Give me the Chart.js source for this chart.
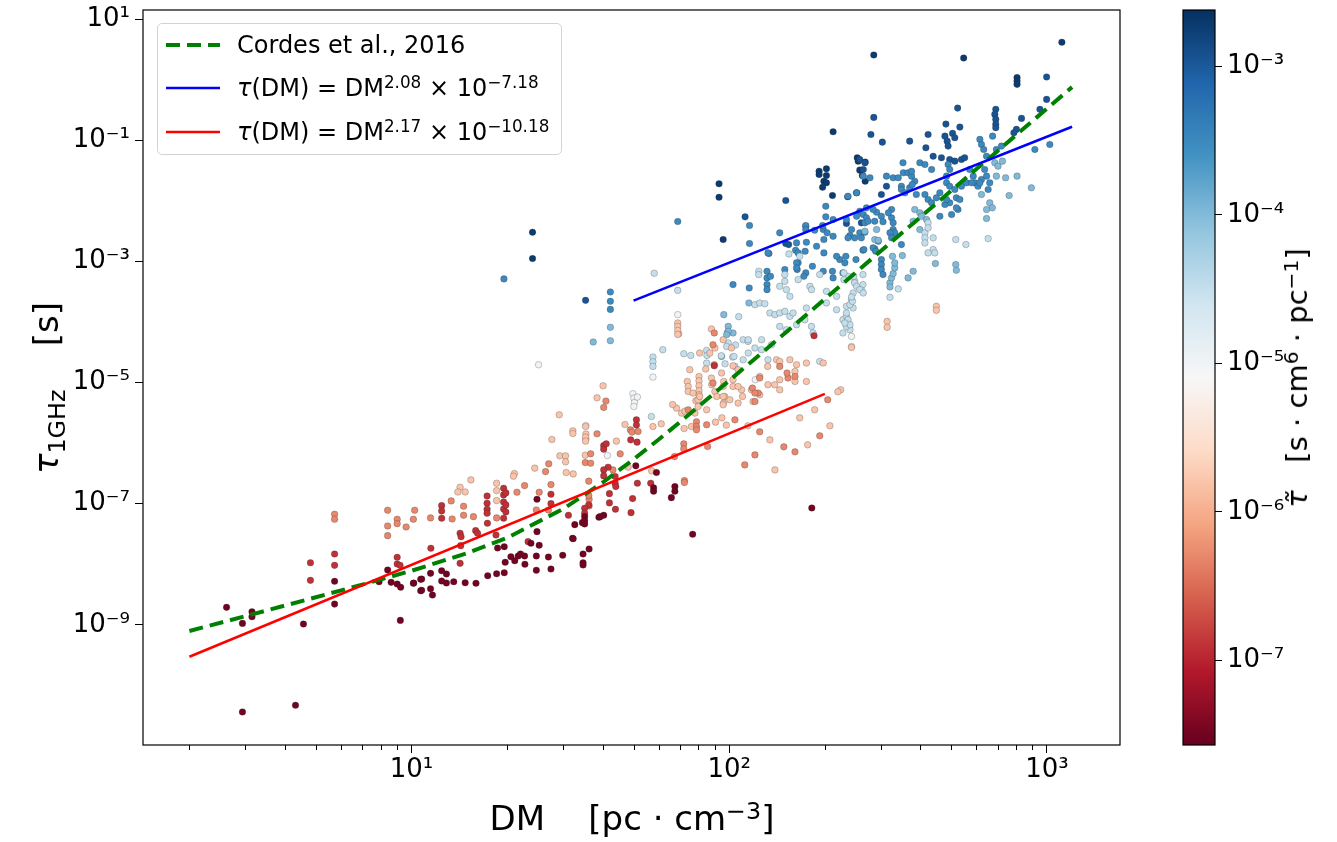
<!DOCTYPE html>
<html lang="en">
<head>
<meta charset="UTF-8">
<title>Scattering time vs DM</title>
<script src="https://cdn.jsdelivr.net/npm/chart.js"></script>
<style>
  body { margin: 0; background: #fff; font-family: 'DejaVu Sans', sans-serif; }
  #wrap { position: relative; width: 1337px; height: 842px; overflow: hidden; }
  canvas { position: absolute; top: 0; }
  #main { left: 0; }
  #cbar { left: 1170px; }
  .label { position: absolute; white-space: nowrap; color: #000; }
  .rot { transform: translate(-50%, -50%) rotate(-90deg); }
  sup { font-size: 0.7em; vertical-align: 0.45em; line-height: 0; }
  sub { font-size: 0.7em; vertical-align: -0.28em; line-height: 0; }
  #legend {
    position: absolute; left: 157px; top: 23px; width: 403px; height: 130px;
    border: 1px solid #d3d3d3; border-radius: 5px; background: rgba(255,255,255,0.85);
    font-size: 24px;
  }
  #legend .row { position: absolute; left: 0; height: 30px; line-height: 30px; white-space: nowrap; }
  #legend svg { position: absolute; left: 8px; top: 10px; }
  #legend span { position: absolute; left: 79px; top: 0; }
</style>
</head>
<body>
<div id="wrap">
  <canvas id="main" width="1337" height="842"></canvas>
  <canvas id="cbar" width="167" height="842"></canvas>

  <div id="legend">
    <div class="row" style="top:6px"><svg width="54" height="10"><line x1="0" y1="5" x2="54" y2="5" stroke="#008000" stroke-width="4" stroke-dasharray="14,7"/></svg><span>Cordes et al., 2016</span></div>
    <div class="row" style="top:49px"><svg width="54" height="10"><line x1="0" y1="5" x2="54" y2="5" stroke="#0000ff" stroke-width="2.5"/></svg><span><i>τ</i>(DM) = DM<sup>2.08</sup> × 10<sup>−7.18</sup></span></div>
    <div class="row" style="top:93px"><svg width="54" height="10"><line x1="0" y1="5" x2="54" y2="5" stroke="#ff0000" stroke-width="2.5"/></svg><span><i>τ</i>(DM) = DM<sup>2.17</sup> × 10<sup>−10.18</sup></span></div>
  </div>

  <div class="label rot" style="left:46px; top:388px; font-size:34px;"><i>τ</i><sub>1GHz</sub>&nbsp;&nbsp;&nbsp;&nbsp;[s]</div>
  <div class="label" style="left:632px; top:818px; font-size:34px; transform: translate(-50%, -50%);">DM&nbsp;&nbsp;&nbsp;&nbsp;[pc · cm<sup>−3</sup>]</div>
  <div class="label rot" style="left:1297px; top:378px; font-size:29px;"><i>τ̃</i>&nbsp;&nbsp;&nbsp;[s · cm<sup>6</sup> · pc<sup>−1</sup>]</div>
</div>

<script>
// points are [log10 DM, log10 tau_1GHz], grouped by their colour (log10 tau-tilde)
const groupNames = ['darkRed', 'red', 'salmon', 'peach', 'white', 'paleBlue', 'lightBlue', 'blue', 'dark', 'darkest'];
const groupTilde = [-7.5, -6.9, -6.3, -5.8, -5.0, -4.5, -4.0, -3.5, -2.95, -2.72];

const darkRedPts = [
  [0.418,-8.712],[0.468,-8.977],[0.498,-8.785],[0.498,-8.868],[0.660,-8.988],[0.758,-8.282],[0.758,-8.658],
  [0.468,-10.439],[0.635,-10.328],[0.925,-8.095],[0.898,-8.289],[0.936,-8.299],[0.955,-8.327],[0.966,-8.381],
  [0.965,-8.927],[1.006,-8.315],[1.029,-8.249],[1.029,-8.438],[1.395,-6.926],[1.514,-7.346],[1.538,-7.313],
  [1.545,-7.335],[1.545,-7.214],[1.590,-7.224],[1.376,-7.654],[1.402,-7.687],[1.395,-7.462],[1.292,-7.710],
  [1.271,-7.732],[1.313,-7.875],[1.325,-7.942],[1.336,-7.864],[1.343,-7.831],[1.356,-7.864],[1.357,-8.001],
  [1.393,-7.864],[1.431,-7.880],[1.476,-7.852],[1.507,-7.571],[1.540,-7.831],[1.540,-7.975],[1.540,-8.013],
  [1.559,-7.748],[1.439,-8.079],[1.393,-8.100],[1.295,-7.968],[1.292,-8.140],[1.268,-8.157],[1.240,-8.190],
  [1.203,-8.315],[1.169,-8.305],[1.133,-8.289],[1.110,-8.310],[1.095,-8.277],[1.110,-8.161],[1.095,-8.107],
  [1.060,-8.150],[1.032,-8.244],[1.007,-8.310],[1.032,-8.431],[1.060,-8.405],[1.066,-8.509],[1.706,-6.375],
  [1.771,-6.486],[1.762,-6.739],[1.762,-6.794],[1.829,-6.718],[1.829,-6.794],[1.594,-7.214],[1.605,-7.191],
  [1.818,-6.900],[1.885,-7.505],[1.545,-7.280],[1.509,-7.578],[2.260,-7.070]
];
const redPts = [
  [0.682,-7.975],[0.682,-8.266],[0.758,-7.831],[0.758,-8.018],[0.955,-7.885],[0.955,-7.996],[0.964,-8.018],
  [1.095,-7.032],[1.095,-7.120],[1.095,-7.240],[1.238,-6.872],[1.238,-6.992],[1.238,-7.092],[1.238,-7.158],
  [1.290,-6.744],[1.290,-6.855],[1.290,-6.971],[1.290,-7.087],[1.290,-7.240],[1.297,-6.822],[1.297,-7.020],
  [1.297,-7.136],[1.439,-6.843],[1.439,-6.999],[1.494,-7.191],[1.239,-7.323],[1.266,-7.517],[1.202,-7.445],
  [1.208,-7.488],[1.153,-7.488],[1.156,-7.545],[1.061,-7.736],[1.153,-7.985],[1.367,-7.627],[1.155,-7.693],
  [1.708,-5.615],[1.708,-5.702],[1.690,-5.946],[1.710,-5.984],[1.605,-6.040],[1.605,-6.099],[1.613,-6.012],
  [1.619,-6.397],[1.605,-6.442],[1.605,-6.541],[1.641,-6.552],[1.641,-6.662],[1.643,-6.718],[1.711,-6.662],
  [1.753,-6.662],[1.696,-6.916],[1.623,-6.834],[1.623,-6.987],[1.642,-7.092],[1.691,-7.148],[1.558,-7.020],
  [1.545,-7.075],[1.545,-7.158],[2.267,-4.226],[1.953,-4.722]
];
const salmonPts = [
  [0.758,-7.174],[0.758,-7.257],[0.925,-7.108],[0.955,-7.257],[0.925,-7.368],[0.955,-7.330],[0.925,-7.528],
  [0.983,-7.384],[1.010,-7.108],[1.006,-7.257],[1.564,-6.177],[1.547,-6.321],[1.564,-6.331],[1.432,-6.342],
  [1.422,-6.470],[1.125,-6.954],[1.060,-7.235],[1.128,-7.252],[1.164,-7.042],[1.164,-7.191],[1.195,-7.214],
  [1.268,-7.235],[1.332,-6.811],[1.356,-6.701],[1.402,-6.811],[1.393,-7.103],[1.431,-7.103],[1.439,-6.685],
  [1.559,-6.926],[1.559,-7.037],[1.558,-6.628],[1.612,-5.306],[1.605,-5.411],[1.689,-5.780],[1.694,-5.818],
  [1.713,-5.808],[1.584,-5.846],[1.657,-6.177],[1.634,-6.442],[1.859,-6.618],[1.859,-6.651],[1.558,-6.866],
  [1.897,-5.648],[1.897,-5.726],[1.897,-5.780],[1.929,-5.697],[1.932,-6.056],[1.857,-6.012],[1.857,-6.094],
  [1.828,-6.222],[1.953,-4.705],[1.953,-4.181],[2.073,-5.091],[2.091,-5.173],[1.949,-4.375],[2.159,-4.733],
  [2.207,-4.899],[2.185,-4.925],[2.182,-4.842],[1.871,-5.449],[1.949,-5.008],[2.081,-5.173],[2.096,-4.925],
  [2.081,-5.312],[2.018,-5.615],[2.096,-5.813],[2.172,-6.061],[2.207,-6.144],[2.285,-5.879],[2.310,-5.284],
  [2.049,-6.359],[2.081,-6.194]
];
const peachPts = [
  [1.465,-5.532],[1.508,-5.797],[1.508,-5.841],[1.549,-5.851],[1.549,-5.934],[1.442,-5.940],[1.467,-6.210],
  [1.485,-6.210],[1.485,-6.309],[1.547,-6.199],[1.388,-6.413],[1.487,-6.486],[1.509,-6.508],[1.324,-6.503],
  [1.321,-6.546],[1.187,-6.607],[1.153,-6.728],[1.146,-6.806],[1.169,-6.806],[1.268,-6.662],[1.268,-6.784],
  [1.268,-6.949],[1.841,-4.193],[1.603,-5.053],[1.584,-5.251],[1.672,-5.692],[1.760,-5.726],[1.786,-5.681],
  [1.645,-5.967],[1.548,-5.726],[1.548,-5.901],[1.548,-5.967],[1.682,-6.397],[1.756,-6.458],[1.957,-5.653],
  [1.991,-5.702],[1.858,-5.759],[1.881,-5.726],[1.834,-5.421],[1.822,-5.362],[1.850,-5.504],[1.861,-5.471],
  [1.895,-5.301],[1.902,-5.284],[1.868,-4.981],[1.871,-5.064],[1.871,-5.147],[1.876,-4.788],[1.905,-4.899],
  [1.905,-4.970],[1.905,-5.053],[1.905,-5.135],[1.905,-5.201],[1.926,-4.776],[1.944,-4.925],[1.945,-5.036],
  [1.955,-5.147],[1.961,-5.229],[1.976,-4.842],[1.983,-4.981],[1.986,-5.229],[1.982,-5.339],[2.012,-4.953],
  [2.012,-5.064],[2.039,-5.119],[2.042,-5.229],[2.028,-5.339],[2.075,-5.312],[1.944,-4.115],[1.955,-4.429],
  [1.981,-4.292],[2.007,-4.429],[1.907,-4.512],[1.939,-4.512],[2.012,-4.722],[2.028,-4.788],[2.096,-4.899],
  [2.121,-4.733],[2.149,-4.623],[2.159,-4.651],[2.191,-4.623],[2.212,-4.705],[2.207,-4.816],[2.207,-4.981],
  [2.159,-4.953],[2.243,-4.677],[2.243,-4.981],[2.296,-4.677],[2.351,-5.119],[2.385,-4.419],[1.886,-5.173],
  [1.907,-5.229],[1.902,-5.395],[1.929,-5.449],[1.892,-5.504],[1.981,-5.064],[1.981,-5.229],[1.981,-5.367],
  [2.002,-5.284],[2.028,-5.064],[2.070,-5.119],[2.096,-5.201],[2.122,-5.036],[2.143,-5.036],[2.159,-5.119],
  [1.977,-5.582],[2.059,-5.714],[2.128,-5.946],[2.247,-6.028],[2.317,-5.714],[2.222,-5.582],[2.269,-5.449],
  [2.342,-5.152],[2.144,-6.442],[2.497,-3.989],[2.497,-4.088],[2.652,-3.741],[2.652,-3.807],[1.838,-4.016],
  [1.838,-4.072],[1.838,-4.138],[1.838,-4.204]
];
const whitePts = [
  [1.549,-5.709],[1.760,-4.909],[1.697,-5.185],[1.700,-5.256],[1.702,-5.329],[1.711,-5.239],[1.700,-5.395],
  [1.617,-6.205],[2.082,-4.953],[2.385,-4.237],[2.385,-4.403],[1.400,-4.705],[1.838,-3.878]
];
const paleBluePts = [
  [1.760,-4.578],[1.760,-4.656],[1.760,-4.733],[1.791,-4.457],[1.857,-4.523],[1.879,-4.552],[1.755,-5.560],
  [1.929,-4.469],[1.930,-4.551],[1.929,-4.677],[1.975,-4.556],[1.987,-4.689],[2.011,-4.578],[2.018,-4.733],
  [1.997,-4.346],[2.020,-4.379],[2.044,-4.623],[2.044,-4.292],[2.059,-4.320],[2.188,-2.875],[2.222,-2.914],
  [2.093,-3.162],[2.093,-3.217],[2.175,-3.217],[2.175,-3.328],[2.159,-3.410],[2.180,-3.465],[2.191,-3.576],
  [2.217,-3.300],[2.254,-3.410],[2.259,-3.465],[2.374,-3.245],[2.395,-3.328],[2.416,-3.465],[2.421,-3.382],
  [2.390,-3.520],[2.306,-3.493],[2.338,-3.576],[2.030,-3.911],[2.081,-3.713],[2.096,-3.685],[2.112,-3.697],
  [2.128,-3.850],[2.144,-3.878],[2.159,-3.850],[2.175,-3.824],[2.191,-3.906],[2.201,-3.850],[2.159,-4.072],
  [2.180,-4.127],[2.212,-4.044],[2.238,-3.961],[2.243,-3.768],[2.259,-4.072],[2.264,-4.181],[2.306,-3.685],
  [2.338,-3.796],[2.358,-3.961],[2.369,-3.906],[2.374,-4.016],[2.380,-4.127],[2.358,-4.181],[2.369,-4.072],
  [2.385,-3.630],[2.390,-3.768],[1.992,-4.403],[2.060,-4.292],[2.060,-4.512],[2.081,-4.429],[2.102,-4.292],
  [2.102,-4.457],[2.133,-4.375],[2.015,-4.568],[2.122,-4.623],[2.285,-4.651],[2.616,-2.527],[2.616,-2.610],
  [2.616,-2.693],[2.626,-2.362],[2.626,-2.445],[2.642,-2.610],[2.713,-2.638],[2.745,-2.721],[2.815,-2.622],
  [2.532,-3.453],[2.506,-3.592],[2.361,-3.189],[2.361,-3.300],[2.392,-3.245],[2.395,-3.354],[2.421,-3.217],
  [2.401,-3.410],[2.411,-3.465],[2.422,-3.520],[2.369,-3.741],[2.380,-3.713],[2.388,-3.658],[2.385,-3.586],
  [2.369,-3.850],[2.374,-3.961],[2.380,-4.044],[2.364,-4.016],[2.642,-2.803],[2.647,-2.858],[2.626,-2.858],
  [2.285,-3.217],[1.764,-3.195],[1.838,-3.477]
];
const lightBluePts = [
  [1.572,-4.330],[1.626,-4.308],[1.995,-4.171],[2.012,-4.181],[1.983,-3.878],[2.062,-3.685],[1.997,-4.072],
  [1.997,-4.154],[1.992,-4.209],[1.976,-4.568],[2.836,-1.370],[2.846,-1.426],[2.860,-1.343],[2.870,-1.618],
  [2.841,-1.591],[2.906,-1.591],[2.951,-1.783],[2.881,-1.911],[2.794,-1.894],[2.820,-2.031],[2.828,-2.114],
  [2.810,-2.142],[2.810,-2.291],[2.584,-2.142],[2.600,-2.197],[2.605,-2.253],[2.579,-2.336],[2.621,-2.307],
  [2.600,-2.473],[2.427,-2.501],[2.464,-2.473],[2.458,-2.638],[2.469,-2.650],[2.649,-3.035],[2.713,-3.051],
  [2.715,-3.146],[2.579,-3.162],[2.563,-3.271],[2.506,-3.354],[2.506,-3.420],[2.511,-3.271],[2.516,-3.200],
  [2.521,-3.106],[2.514,-2.914],[2.521,-3.023],[2.545,-2.903],[1.626,-4.088]
];
const bluePts = [
  [2.064,-2.407],[2.064,-2.704],[2.125,-2.870],[2.159,-2.527],[2.212,-2.693],[2.209,-2.815],[2.217,-2.858],
  [2.243,-2.683],[2.241,-2.418],[2.239,-2.832],[2.269,-2.484],[2.275,-2.749],[2.298,-2.638],[2.298,-2.858],
  [2.296,-2.473],[2.308,-2.527],[2.327,-2.584],[2.380,-2.572],[2.385,-2.473],[2.411,-2.527],[2.427,-2.517],
  [2.421,-2.815],[2.458,-2.792],[2.348,-2.969],[2.364,-3.023],[2.367,-2.914],[2.119,-3.162],[2.119,-3.271],
  [2.119,-3.382],[2.119,-3.465],[2.130,-3.245],[2.175,-3.134],[2.217,-3.023],[2.214,-3.134],[2.241,-3.189],
  [2.235,-3.245],[2.296,-3.162],[2.325,-3.162],[2.327,-3.271],[2.358,-3.189],[2.012,-3.382],[2.063,-3.437],
  [2.789,-0.984],[2.794,-1.067],[2.801,-1.150],[2.810,-1.261],[2.829,-0.930],[2.841,-1.150],[2.857,-1.095],
  [2.547,-1.370],[2.600,-1.370],[2.616,-1.398],[2.637,-1.481],[2.689,-1.398],[2.694,-1.481],[2.422,-1.591],
  [2.443,-1.618],[2.495,-1.591],[2.516,-1.618],[2.532,-1.618],[2.548,-1.535],[2.563,-1.535],[2.574,-1.591],
  [2.584,-1.674],[2.574,-1.509],[2.542,-1.757],[2.542,-1.811],[2.553,-1.866],[2.568,-1.783],[2.576,-1.729],
  [2.616,-1.894],[2.626,-1.977],[2.637,-2.031],[2.663,-1.866],[2.652,-1.949],[2.684,-1.591],[2.684,-1.701],
  [2.694,-1.757],[2.710,-1.811],[2.715,-1.949],[2.726,-1.977],[2.694,-2.031],[2.720,-2.142],[2.757,-1.481],
  [2.768,-1.591],[2.773,-1.701],[2.783,-1.757],[2.794,-1.646],[2.804,-1.481],[2.810,-1.591],[2.820,-1.701],
  [2.815,-1.811],[2.411,-2.170],[2.422,-2.225],[2.432,-2.279],[2.427,-2.362],[2.437,-2.336],[2.464,-2.187],
  [2.479,-2.253],[2.458,-2.336],[2.484,-2.345],[2.511,-2.279],[2.516,-2.362],[2.516,-2.473],[2.521,-2.527],
  [2.511,-2.142],[2.663,-2.253],[2.679,-2.059],[2.700,-2.225],[2.715,-2.114],[2.479,-2.969],[2.479,-3.051],
  [2.479,-3.134],[2.484,-3.217],[2.453,-2.775],[2.461,-2.832],[2.469,-2.666],[2.424,-2.803],[2.399,-2.969],
  [2.501,-2.197],[2.506,-2.527],[2.511,-2.610],[2.542,-2.721],[2.395,-2.610],[2.374,-2.610],[2.416,-2.610],
  [2.374,-1.922],[2.401,-1.866],[2.369,-2.307],[2.401,-2.253],[2.432,-2.114],[2.589,-1.894],[2.684,-1.977],
  [2.731,-1.757],[2.747,-1.701],[2.789,-1.701],[2.763,-1.701],[2.304,-2.087],[2.304,-2.263],[2.327,-2.307],
  [2.241,-2.407],[2.241,-2.473],[2.294,-2.407],[2.453,-2.142],[2.122,-2.858],[2.212,-3.023],[2.212,-3.106],
  [2.262,-3.079],[2.338,-2.914],[1.291,-3.288],[1.626,-3.503],[1.626,-3.658],[1.626,-3.791],[1.838,-2.340],
  [2.962,-1.150],[3.009,-1.067]
];
const darkPts = [
  [2.999,0.046],[2.178,-2.704],[2.187,-2.721],[2.369,-2.374],[2.416,-2.362],[2.455,-0.621],[2.446,-0.902],
  [2.482,-1.029],[2.719,-0.467],[2.839,-0.488],[2.836,-0.571],[2.839,-0.654],[2.839,-0.736],[2.839,-0.791],
  [2.920,-0.637],[2.904,-0.819],[2.896,-0.874],[2.682,-0.731],[2.726,-0.781],[2.679,-0.930],[2.686,-1.013],
  [2.689,-1.095],[2.703,-0.885],[2.710,-0.956],[2.626,-0.902],[2.568,-1.013],[2.619,-1.122],[2.642,-1.261],
  [2.668,-1.287],[2.694,-1.315],[2.710,-1.343],[2.731,-1.315],[2.741,-1.287],[2.411,-1.315],[2.422,-1.481],
  [2.427,-1.370],[2.479,-1.894],[2.495,-1.757],[2.050,-2.263],[2.178,-1.993],[1.548,-3.642],[2.999,-0.323],
  [2.978,-0.488]
];
const darkestPts = [
  [1.981,-2.638],[2.455,0.410],[2.738,0.360],[2.906,0.036],[2.906,-0.020],[2.906,-0.075],[3.047,0.620],
  [2.327,-0.857],[1.968,-1.717],[1.968,-1.939],[2.283,-1.509],[2.283,-1.563],[2.306,-1.469],[2.306,-1.580],
  [2.298,-1.674],[2.306,-1.701],[2.294,-1.773],[2.325,-1.911],[2.403,-1.287],[2.406,-1.343],[2.428,-1.360],
  [2.411,-1.492],[2.419,-1.580],[2.428,-1.674],[2.401,-1.866],[2.373,-1.932],[1.381,-2.517],[1.381,-2.952]
];
const groupPts = [darkRedPts, redPts, salmonPts, peachPts, whitePts, paleBluePts, lightBluePts, bluePts, darkPts, darkestPts];

// curves in linear units (DM in pc cm^-3, tau in s)
const cordesDM  = [2, 3, 4, 5, 7, 10, 15, 20, 30, 40, 50, 60, 70, 85, 100, 120, 150, 200, 250, 300, 400, 500, 600, 700, 850, 1000, 1200];
const cordesTau = [7.9e-10, 1.39e-9, 2.08e-9, 2.85e-9, 4.6e-9, 7.8e-9, 1.53e-8, 2.73e-8, 8.2e-8, 2.24e-7, 5.4e-7, 1.15e-6,
                   2.23e-6, 5.24e-6, 1.08e-5, 2.43e-5, 6.6e-5, 2.4e-4, 6.55e-4, 1.49e-3, 5.41e-3, 1.48e-2, 3.37e-2, 6.7e-2, 0.161, 0.335, 0.757];
const blueFitDM  = [50, 1200];
const blueFitTau = [2.26e-4, 0.168];
const redFitDM   = [2, 200];
const redFitTau  = [2.97e-10, 6.5e-6];

// axis ranges (log10) and tick exponents
const xLogRange = [0.155, 3.23];
const yLogRange = [-10.985, 1.153];
const cLogRange = [-7.57, -2.62];
const yTickExp = [-9, -7, -5, -3, -1, 1];
const cTickExp = [-7, -6, -5, -4, -3];

const RDBU = [[103,0,31],[178,24,43],[214,96,77],[244,165,130],[253,219,199],[247,247,247],
              [209,229,240],[146,197,222],[67,147,195],[33,102,172],[5,48,97]];

function rdbu(t) {
  t = Math.min(1, Math.max(0, t)) * 10;
  const i = Math.min(9, Math.floor(t)), f = t - i;
  const a = RDBU[i], b = RDBU[i + 1];
  const c = a.map((v, k) => Math.round(v + (b[k] - v) * f));
  return `rgb(${c[0]},${c[1]},${c[2]})`;
}
function tildeColor(logv) {
  return rdbu((logv - cLogRange[0]) / (cLogRange[1] - cLogRange[0]));
}

const SUP = {'-': '⁻', '0': '⁰', '1': '¹', '2': '²', '3': '³', '4': '⁴', '5': '⁵', '6': '⁶', '7': '⁷', '8': '⁸', '9': '⁹'};
function powLabel(v) {
  const e = Math.round(Math.log10(v));
  return '10' + String(e).split('').map(ch => SUP[ch]).join('');
}
function isPow10(v) {
  const e = Math.log10(v);
  return Math.abs(e - Math.round(e)) < 1e-6;
}

const tickFont = {family: 'DejaVu Sans', size: 26};

const scatterSets = groupPts.map((pts, i) => ({
  label: groupNames[i],
  data: pts.map(p => ({x: Math.pow(10, p[0]), y: Math.pow(10, p[1])})),
  backgroundColor: tildeColor(groupTilde[i]),
  borderColor: 'rgba(40,40,40,0.5)',
  borderWidth: 0.5,
  pointRadius: 3.3,
  order: 3 + i
}));

const lineSets = [
  {
    label: 'Cordes et al., 2016',
    data: cordesDM.map((d, i) => ({x: d, y: cordesTau[i]})),
    showLine: true, borderColor: '#008000', borderWidth: 4, borderDash: [14, 7],
    pointRadius: 0, fill: false, order: 2
  },
  {
    label: 'blue fit',
    data: blueFitDM.map((d, i) => ({x: d, y: blueFitTau[i]})),
    showLine: true, borderColor: '#0000ff', borderWidth: 2.5, pointRadius: 0, fill: false, order: 1
  },
  {
    label: 'red fit',
    data: redFitDM.map((d, i) => ({x: d, y: redFitTau[i]})),
    showLine: true, borderColor: '#ff0000', borderWidth: 2.5, pointRadius: 0, fill: false, order: 0
  }
];

// frame round the plot and short minor ticks on the x axis
const framePlugin = {
  id: 'frame',
  afterDraw(chart) {
    const {ctx, chartArea: a, scales} = chart;
    ctx.save();
    ctx.strokeStyle = '#000';
    ctx.lineWidth = 1.2;
    ctx.strokeRect(a.left, a.top, a.right - a.left, a.bottom - a.top);
    if (scales.x && chart.canvas.id === 'main') {
      ctx.lineWidth = 1;
      scales.x.ticks.forEach(t => {
        if (isPow10(t.value)) return;
        const px = Math.round(scales.x.getPixelForValue(t.value)) + 0.5;
        ctx.beginPath();
        ctx.moveTo(px, a.bottom);
        ctx.lineTo(px, a.bottom + 5);
        ctx.stroke();
      });
    }
    ctx.restore();
  }
};

new Chart(document.getElementById('main'), {
  type: 'scatter',
  data: {datasets: [...lineSets, ...scatterSets]},
  options: {
    responsive: false,
    animation: false,
    events: [],
    layout: {padding: {top: 10, right: 217, left: 0, bottom: 0}},
    plugins: {legend: {display: false}, tooltip: {enabled: false}},
    scales: {
      x: {
        type: 'logarithmic',
        min: Math.pow(10, xLogRange[0]),
        max: Math.pow(10, xLogRange[1]),
        afterBuildTicks: scale => {
          const t = [];
          for (let e = 0; e <= 3; e++) {
            for (let s = 1; s <= 9; s++) {
              const v = s * Math.pow(10, e);
              if (v >= scale.min && v <= scale.max) t.push({value: v});
            }
          }
          scale.ticks = t;
        },
        afterFit: scale => { scale.height = 97; scale.paddingLeft = 0; scale.paddingRight = 0; },
        ticks: {
          callback: v => isPow10(v) ? powLabel(v) : '',
          font: tickFont, color: '#000', padding: 2, maxRotation: 0, autoSkip: false
        },
        grid: {
          drawOnChartArea: false, tickLength: 8, tickWidth: 1,
          tickColor: ctx => (ctx.tick && isPow10(ctx.tick.value)) ? '#000' : 'rgba(0,0,0,0)'
        },
        border: {display: false}
      },
      y: {
        type: 'logarithmic',
        min: Math.pow(10, yLogRange[0]),
        max: Math.pow(10, yLogRange[1]),
        afterBuildTicks: scale => { scale.ticks = yTickExp.map(e => ({value: Math.pow(10, e)})); },
        afterFit: scale => { scale.width = 143; scale.paddingTop = 0; scale.paddingBottom = 0; },
        ticks: {callback: v => powLabel(v), font: tickFont, color: '#000', padding: 5, autoSkip: false},
        grid: {drawOnChartArea: false, tickLength: 8, tickWidth: 1, tickColor: '#000'},
        border: {display: false}
      }
    }
  },
  plugins: [framePlugin]
});

// colour bar: an empty chart whose plot area is painted with the colour map
const gradientPlugin = {
  id: 'gradient',
  beforeDraw(chart) {
    const {ctx, chartArea: a} = chart;
    const g = ctx.createLinearGradient(0, a.bottom, 0, a.top);
    RDBU.forEach((c, i) => g.addColorStop(i / 10, `rgb(${c[0]},${c[1]},${c[2]})`));
    ctx.save();
    ctx.fillStyle = g;
    ctx.fillRect(a.left, a.top, a.right - a.left, a.bottom - a.top);
    ctx.restore();
  }
};

new Chart(document.getElementById('cbar'), {
  type: 'scatter',
  data: {datasets: []},
  options: {
    responsive: false,
    animation: false,
    events: [],
    layout: {padding: {top: 10, left: 13, bottom: 97, right: 0}},
    plugins: {legend: {display: false}, tooltip: {enabled: false}},
    scales: {
      x: {display: false, min: 0, max: 1},
      y: {
        type: 'logarithmic',
        position: 'right',
        min: Math.pow(10, cLogRange[0]),
        max: Math.pow(10, cLogRange[1]),
        afterBuildTicks: scale => { scale.ticks = cTickExp.map(e => ({value: Math.pow(10, e)})); },
        afterFit: scale => { scale.width = 122; scale.paddingTop = 0; scale.paddingBottom = 0; },
        ticks: {callback: v => powLabel(v), font: tickFont, color: '#000', padding: 5, autoSkip: false},
        grid: {drawOnChartArea: false, tickLength: 7, tickWidth: 1, tickColor: '#000'},
        border: {display: false}
      }
    }
  },
  plugins: [gradientPlugin, framePlugin]
});
</script>
</body>
</html>
